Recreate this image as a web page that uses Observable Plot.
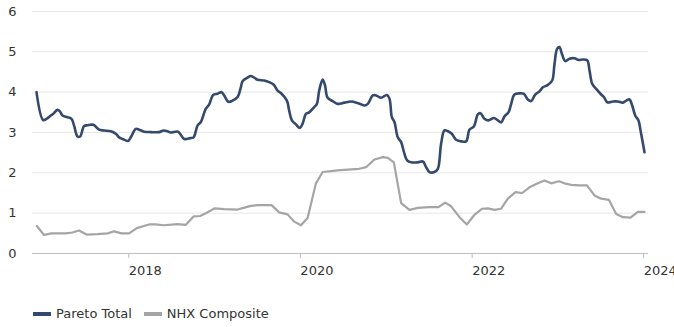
<!DOCTYPE html>
<html>
<head>
<meta charset="utf-8">
<script src="https://cdn.jsdelivr.net/npm/d3@7"></script>
<script src="https://cdn.jsdelivr.net/npm/@observablehq/plot@0.6"></script>
<style>
  html, body { margin: 0; padding: 0; background: #fff; }
  body { font-family: "DejaVu Sans", Verdana, sans-serif; color: #333; width: 674px; overflow: hidden; }
  .legend { display: flex; align-items: center; margin: 21px 0 0 33px; font-size: 13px; line-height: 16px; }
  .legend span.item { display: inline-flex; align-items: center; margin-right: 12px; }
  .legend span.sw { display: inline-block; width: 18px; height: 4px; margin-right: 5px; }
</style>
</head>
<body>
<div id="chart"></div>
<script>
// Dates are given as decimal years.
const paretoYears = [
  2016.959, 2017.036, 2017.075, 2017.125, 2017.152, 2017.203, 2017.230, 2017.262, 2017.320, 2017.367,
  2017.397, 2017.437, 2017.467, 2017.514, 2017.553, 2017.623, 2017.689, 2017.747, 2017.825, 2017.883,
  2017.922, 2017.962, 2018.027, 2018.058, 2018.117, 2018.155, 2018.213, 2018.292, 2018.388, 2018.440,
  2018.486, 2018.525, 2018.610, 2018.680, 2018.750, 2018.790, 2018.836, 2018.875, 2018.933, 2018.971,
  2019.018, 2019.069, 2019.116, 2019.146, 2019.198, 2019.244, 2019.303, 2019.341, 2019.361, 2019.419,
  2019.458, 2019.536, 2019.613, 2019.671, 2019.722, 2019.769, 2019.808, 2019.878, 2019.904, 2019.936,
  2019.983, 2020.029, 2020.061, 2020.099, 2020.138, 2020.196, 2020.227, 2020.254, 2020.294, 2020.321,
  2020.352, 2020.410, 2020.469, 2020.546, 2020.624, 2020.702, 2020.779, 2020.819, 2020.877, 2020.915,
  2020.974, 2021.040, 2021.071, 2021.099, 2021.129, 2021.168, 2021.207, 2021.246, 2021.277, 2021.324,
  2021.402, 2021.460, 2021.499, 2021.537, 2021.595, 2021.635, 2021.673, 2021.712, 2021.752, 2021.798,
  2021.848, 2021.907, 2021.965, 2022.003, 2022.055, 2022.101, 2022.132, 2022.178, 2022.225, 2022.288,
  2022.335, 2022.373, 2022.412, 2022.458, 2022.490, 2022.528, 2022.587, 2022.638, 2022.684, 2022.723,
  2022.770, 2022.820, 2022.859, 2022.918, 2022.968, 2022.995, 2023.026, 2023.053, 2023.081, 2023.120,
  2023.170, 2023.228, 2023.275, 2023.326, 2023.376, 2023.403, 2023.434, 2023.481, 2023.531, 2023.571,
  2023.609, 2023.676, 2023.734, 2023.792, 2023.831, 2023.869, 2023.901, 2023.936, 2023.974, 2023.998,
  2024.044
];
const paretoValues = [
  4.00, 3.31, 3.34, 3.42, 3.46, 3.56, 3.53, 3.42, 3.38, 3.34,
  3.17, 2.90, 2.90, 3.16, 3.18, 3.19, 3.07, 3.05, 3.03, 2.97,
  2.88, 2.84, 2.79, 2.88, 3.09, 3.07, 3.02, 3.01, 3.01, 3.05,
  3.03, 3.00, 3.02, 2.84, 2.86, 2.88, 3.17, 3.26, 3.59, 3.69,
  3.93, 3.96, 4.00, 3.92, 3.76, 3.79, 3.88, 4.12, 4.27, 4.36,
  4.40, 4.31, 4.29, 4.25, 4.19, 4.04, 3.98, 3.79, 3.55, 3.30,
  3.20, 3.11, 3.22, 3.46, 3.50, 3.63, 3.71, 4.04, 4.31, 4.17,
  3.86, 3.78, 3.71, 3.74, 3.77, 3.73, 3.67, 3.71, 3.92, 3.92,
  3.86, 3.93, 3.84, 3.38, 3.26, 2.88, 2.76, 2.47, 2.31, 2.26,
  2.26, 2.28, 2.14, 2.02, 2.02, 2.10, 2.72, 3.05, 3.03, 2.97,
  2.82, 2.78, 2.78, 3.07, 3.15, 3.45, 3.48, 3.34, 3.30, 3.36,
  3.30, 3.25, 3.40, 3.50, 3.71, 3.94, 3.97, 3.96, 3.82, 3.78,
  3.94, 4.02, 4.12, 4.18, 4.29, 4.70, 5.08, 5.12, 4.95, 4.77,
  4.83, 4.84, 4.80, 4.81, 4.79, 4.54, 4.21, 4.08, 3.96, 3.88,
  3.75, 3.77, 3.77, 3.74, 3.79, 3.82, 3.67, 3.42, 3.30, 3.05,
  2.51
];

const nhxYears = [
  2016.962, 2017.047, 2017.134, 2017.300, 2017.378, 2017.455, 2017.542, 2017.670, 2017.787, 2017.864,
  2017.950, 2018.038, 2018.128, 2018.272, 2018.350, 2018.440, 2018.603, 2018.700, 2018.790, 2018.866,
  2018.933, 2019.038, 2019.146, 2019.303, 2019.373, 2019.458, 2019.536, 2019.699, 2019.788, 2019.886,
  2019.963, 2020.041, 2020.119, 2020.216, 2020.294, 2020.469, 2020.585, 2020.721, 2020.799, 2020.896,
  2020.994, 2021.052, 2021.122, 2021.207, 2021.304, 2021.402, 2021.537, 2021.642, 2021.720, 2021.790,
  2021.887, 2021.973, 2022.062, 2022.152, 2022.218, 2022.295, 2022.373, 2022.451, 2022.540, 2022.618,
  2022.703, 2022.801, 2022.878, 2022.956, 2023.046, 2023.111, 2023.190, 2023.279, 2023.373, 2023.461,
  2023.539, 2023.629, 2023.714, 2023.792, 2023.881, 2023.967, 2024.044
];
const nhxValues = [
  0.68, 0.46, 0.50, 0.50, 0.52, 0.57, 0.47, 0.48, 0.50, 0.55,
  0.50, 0.50, 0.63, 0.72, 0.72, 0.70, 0.73, 0.71, 0.92, 0.93,
  1.00, 1.12, 1.10, 1.09, 1.13, 1.18, 1.20, 1.20, 1.02, 0.97,
  0.79, 0.70, 0.88, 1.74, 2.02, 2.06, 2.08, 2.10, 2.14, 2.33,
  2.39, 2.37, 2.26, 1.25, 1.08, 1.13, 1.15, 1.15, 1.26, 1.17,
  0.90, 0.72, 0.96, 1.11, 1.12, 1.08, 1.11, 1.36, 1.52, 1.50,
  1.64, 1.74, 1.81, 1.74, 1.79, 1.74, 1.70, 1.69, 1.69, 1.44,
  1.36, 1.33, 0.98, 0.90, 0.89, 1.03, 1.03
];

const seriesNames = ["Pareto Total", "NHX Composite"];
const seriesColors = ["#34496e", "#a5a5a5"];
const yTicks = [0, 1, 2, 3, 4, 5, 6];
const xTickYears = [2018, 2020, 2022, 2024];

function yearToDate(t) {
  const y = Math.floor(t);
  const s = Date.UTC(y, 0, 1), e = Date.UTC(y + 1, 0, 1);
  return new Date(s + (t - y) * (e - s));
}

const pareto = paretoYears.map((t, i) => ({date: yearToDate(t), value: paretoValues[i]}));
const nhx = nhxYears.map((t, i) => ({date: yearToDate(t), value: nhxValues[i]}));
const xTicks = xTickYears.map(y => new Date(Date.UTC(y, 0, 1)));

const chart = Plot.plot({
  width: 674,
  height: 285,
  marginLeft: 32,
  marginRight: 26,
  marginTop: 11,
  marginBottom: 32,
  style: {fontFamily: "'DejaVu Sans', Verdana, sans-serif", fontSize: "13px", color: "#333", overflow: "visible"},
  x: {type: "utc", domain: d3.extent([...pareto, ...nhx], d => d.date), insetLeft: 4, insetRight: 4},
  y: {domain: [0, 6]},
  marks: [
    Plot.gridY(yTicks, {stroke: "#e8e8e8", strokeOpacity: 1}),
    Plot.axisY(yTicks, {tickSize: 0, tickPadding: 16, label: null, fill: "#333", fontSize: 13}),
    Plot.ruleY([0], {stroke: "#bdbdbd", strokeWidth: 1}),
    Plot.axisX(xTicks, {tickSize: 5, tickPadding: 7, stroke: "#bdbdbd", textAnchor: "start", dx: 3,
      tickFormat: d3.utcFormat("%Y"), label: null, fill: "#333", fontSize: 13}),
    Plot.line(nhx, {x: "date", y: "value", stroke: seriesColors[1], strokeWidth: 2.2}),
    Plot.line(pareto, {x: "date", y: "value", stroke: seriesColors[0], strokeWidth: 2.6, curve: "catmull-rom"})
  ]
});
document.getElementById("chart").appendChild(chart);

// Legend below the chart
const legend = document.createElement("div");
legend.className = "legend";
seriesNames.forEach((name, i) => {
  const item = document.createElement("span");
  item.className = "item";
  const sw = document.createElement("span");
  sw.className = "sw";
  sw.style.background = seriesColors[i];
  item.appendChild(sw);
  item.appendChild(document.createTextNode(name));
  legend.appendChild(item);
});
document.body.appendChild(legend);
</script>
</body>
</html>
